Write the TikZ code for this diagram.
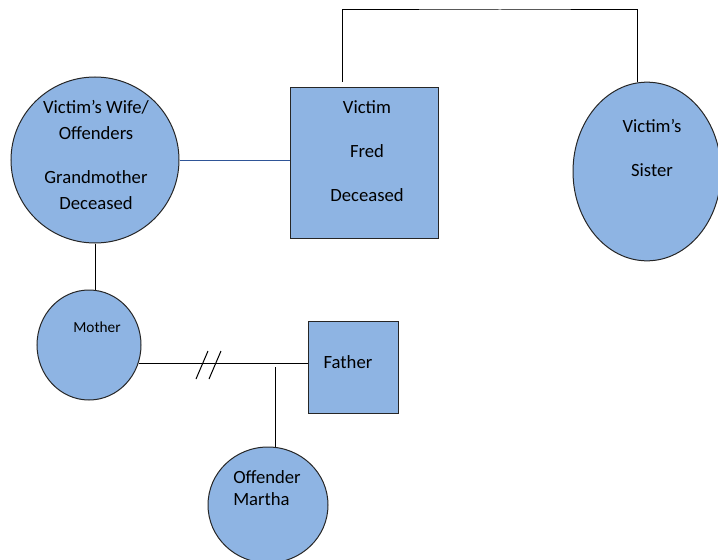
\documentclass[tikz,border=0pt]{standalone}
\usepackage{fontspec}
\setmainfont{Carlito}
\usetikzlibrary{shapes.geometric}
\definecolor{famfill}{RGB}{142,180,227}
\definecolor{famline}{RGB}{47,85,151}

\begin{document}
\begin{tikzpicture}[x=0.75pt,y=-0.75pt,
    person/.style={draw=black!85,fill=famfill,line width=0.75pt,inner sep=0pt},
    lbl/.style={font=\fontsize{14}{19.5}\selectfont,align=center,inner sep=0pt},
    link/.style={line width=0.75pt}]
  \useasboundingbox (0,0) rectangle (718,560);
  % people
  \node[person,ellipse,minimum width=111pt,minimum height=134pt] (sister) at (647,171.5) {};
  \node[person,ellipse,minimum width=126pt,minimum height=124.5pt] (wife) at (95,160) {};
  \node[person,rectangle,minimum width=111pt,minimum height=112.5pt] (victim) at (364,163) {};
  \node[person,ellipse,minimum width=78pt,minimum height=82.5pt] (mother) at (89,345) {};
  \node[person,rectangle,minimum width=67pt,minimum height=69pt] (father) at (353.5,367) {};
  \node[person,ellipse,minimum width=90pt,minimum height=87pt] (martha) at (268,505) {};
  % labels
  \node[lbl] (wifetxt) at (96,155) {Victim’s Wife/\\Offenders\\[13.5pt]Grandmother\\Deceased};
  \node[lbl] (victimtxt) at (367,151) {Victim\\[13.5pt]Fred\\[13.5pt]Deceased};
  \node[lbl] (sistertxt) at (652,148) {Victim’s\\[13.5pt]Sister};
  \node[lbl,font=\fontsize{11.5}{14}\selectfont] (mothertxt) at (97,327) {Mother};
  \node[lbl] (fathertxt) at (348,362) {Father};
  \node[lbl,align=left,font=\fontsize{14}{16}\selectfont] (marthatxt) at (267,488) {Offender\\ Martha};
  % connectors
  \coordinate (vtop) at (342,82);
  \coordinate (sibbar) at (500,10);
  \coordinate (kid) at (275,367);
  \draw[link,famline] (wife.east) -- (wife.east -| victim.west);
  \draw[link] (vtop) |- (sibbar) -| (sister.96);
  \draw[link] (wife.south) -- (wife.south |- mother.north);
  \draw[link] (mother.-20) -- (mother.-20 -| father.west);
  \draw[link] (196,379) -- ++(12,-28) (209,379) -- ++(12,-28);
  \draw[link] (kid) -- (kid |- martha.north);
\end{tikzpicture}
\end{document}
